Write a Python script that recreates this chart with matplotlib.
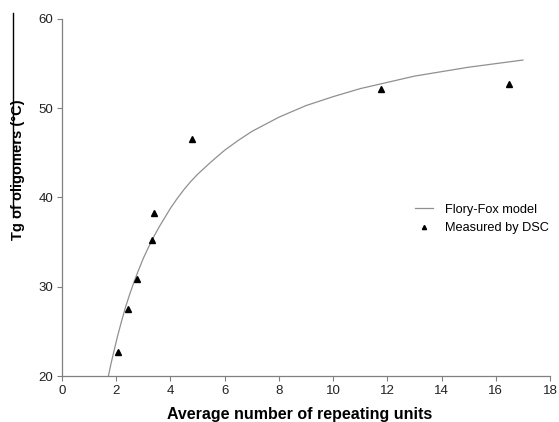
import numpy as np
import matplotlib.pyplot as plt
from matplotlib.lines import Line2D

plt.rcParams['font.family'] = ['Liberation Sans', 'DejaVu Sans']

# === Datos medidos por DSC ===
n_dsc = [2.05, 2.42, 2.78, 3.30, 3.38, 4.81, 11.75, 16.48]
tg_dsc = [22.7, 27.5, 30.9, 35.2, 38.3, 46.5, 52.1, 52.7]

# === Curva Flory-Fox ===
n_model = [1.71, 1.8, 1.9, 2.05, 2.2, 2.35, 2.5, 2.65, 2.8, 3.0, 3.2, 3.4, 3.6,
           3.8, 4.0, 4.25, 4.5, 4.75, 5.0, 5.5, 6.0, 6.5, 7.0, 7.5, 8.0, 9.0,
           10.0, 11.0, 12.0, 13.0, 14.0, 15.0, 16.0, 17.0]
tg_model = [20.0, 21.3, 22.6, 24.5, 26.2, 27.8, 29.2, 30.5, 31.7, 33.2, 34.5,
            35.7, 36.8, 37.8, 38.8, 39.9, 40.9, 41.8, 42.6, 44.0, 45.3, 46.4,
            47.4, 48.2, 49.0, 50.3, 51.3, 52.2, 52.9, 53.6, 54.1, 54.6, 55.0,
            55.4]

fig = plt.figure(figsize=(5.59, 4.22), dpi=100)
ax = fig.add_axes([0.111, 0.109, 0.873, 0.846])

ax.plot(n_model, tg_model, color='#909090', linewidth=0.9, label='Flory-Fox model')
ax.plot(n_dsc, tg_dsc, linestyle='none', marker='^', color='black',
        markersize=5, label='Measured by DSC')

ax.set_xlim(0, 18)
ax.set_ylim(20, 60)
ax.set_xticks(np.arange(0, 19, 2))
ax.set_yticks(np.arange(20, 61, 10))

for s in ['top', 'right']:
    ax.spines[s].set_visible(False)
for s in ['left', 'bottom']:
    ax.spines[s].set_color('#808080')
    ax.spines[s].set_linewidth(0.9)
ax.tick_params(direction='out', length=3.5, width=0.8, color='#808080',
               labelsize=9.5, labelcolor='#222222', pad=3)

ax.set_xlabel('Average number of repeating units', fontsize=11.5,
              fontweight='bold')
ax.set_ylabel('Tg of oligomers (°C)', fontsize=10.5, fontweight='bold')
ax.xaxis.set_label_coords(0.487, -0.087)
ax.yaxis.set_label_coords(-0.076, 0.577)

handles = [Line2D([], [], color='#909090', linewidth=0.9),
           Line2D([], [], linestyle='none', marker='^', color='black', markersize=3)]
ax.legend(handles, ['Flory-Fox model', 'Measured by DSC'], frameon=False,
          fontsize=9.2, loc='center left', bbox_to_anchor=(0.70, 0.44),
          handlelength=1.4, handletextpad=0.9, labelspacing=0.5)

# linea vertical del escaneo original
fig.add_artist(Line2D([12.5 / 559, 12.5 / 559], [1 - 13 / 422, 1 - 217 / 422],
                      color='black', linewidth=1.0))

fig.savefig('out.png', dpi=100)
